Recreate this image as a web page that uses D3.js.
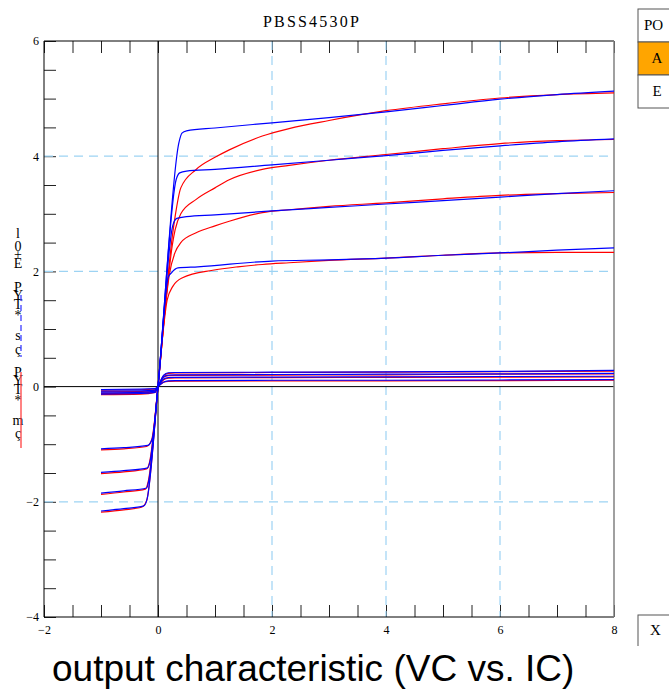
<!DOCTYPE html>
<html>
<head>
<meta charset="utf-8">
<script src="https://cdn.jsdelivr.net/npm/d3@7"></script>
<style>
  body { margin: 0; background: #fff; }
  svg { display: block; }
</style>
</head>
<body>
<div id="chart"></div>
<script>
// axis / grid values
const xTicks = [-2, 0, 2, 4, 6, 8];
const yTicks = [-4, -2, 0, 2, 4, 6];
const gridX = [2, 4, 6];
const gridY = [-2, 2, 4];
const legendItems = ["PO", "A", "E"];
const chartTitle = "PBSS4530P";
const caption = "output characteristic (VC vs. IC)";
const yLabelChars = ["l", "0", "+", "E", "P", "Y", "T", "*", "s", "ç", "P", "Y", "T", "*", "m", "ç"];

// measured curves (blue), [VCE, IC]
const measured1 = [[-1,-2.16],[-0.6,-2.12],[-0.25,-2.07],[-0.19,-1.95],[0,0],[0.37,4.25],[0.42,4.4],[0.5,4.44],[1,4.49],[2,4.58],[3,4.67],[4,4.77],[5,4.88],[6,4.99],[7,5.07],[8,5.13]];
const measured2 = [[-1,-1.85],[-0.6,-1.81],[-0.2,-1.76],[-0.16,-1.62],[0,0],[0.32,3.6],[0.38,3.71],[0.5,3.74],[1,3.77],[2,3.85],[3,3.93],[4,4.01],[5,4.1],[6,4.18],[7,4.25],[8,4.3]];
const measured3 = [[-1,-1.49],[-0.6,-1.46],[-0.18,-1.41],[-0.14,-1.3],[0,0],[0.26,2.8],[0.33,2.92],[0.5,2.95],[1,2.98],[2,3.05],[3,3.11],[4,3.17],[5,3.23],[6,3.29],[7,3.35],[8,3.4]];
const measured4 = [[-1,-1.08],[-0.6,-1.06],[-0.18,-1.02],[-0.1,-0.9],[0,0],[0.18,1.9],[0.24,1.98],[0.35,2.06],[0.7,2.08],[2,2.18],[3,2.2],[4,2.23],[5,2.28],[6,2.32],[7,2.37],[8,2.41]];
const measured5 = [[-1,-0.13],[-0.3,-0.12],[-0.05,-0.1],[0,0],[0.1,0.2],[0.18,0.24],[0.3,0.245],[2,0.25],[4,0.255],[6,0.265],[8,0.28]];
const measured6 = [[-1,-0.11],[-0.3,-0.1],[-0.05,-0.08],[0,0],[0.1,0.17],[0.18,0.2],[0.3,0.205],[2,0.21],[4,0.215],[6,0.22],[8,0.23]];
const measured7 = [[-1,-0.08],[-0.3,-0.075],[-0.05,-0.06],[0,0],[0.1,0.13],[0.18,0.155],[0.3,0.16],[2,0.165],[4,0.17],[6,0.175],[8,0.18]];
const measured8 = [[-1,-0.05],[-0.3,-0.045],[-0.05,-0.035],[0,0],[0.1,0.08],[0.18,0.1],[0.3,0.105],[2,0.11],[4,0.11],[6,0.115],[8,0.12]];

// simulated curves (red)
const simulated1 = [[-1,-2.18],[-0.6,-2.14],[-0.28,-2.09],[-0.2,-1.98],[0,0],[0.15,1.65],[0.25,2.6],[0.3,2.95],[0.4,3.45],[0.67,3.77],[1,3.98],[1.25,4.11],[1.83,4.35],[2.3,4.48],[3,4.62],[4,4.79],[5,4.91],[6,5.01],[7,5.07],[8,5.1]];
const simulated2 = [[-1,-1.87],[-0.6,-1.83],[-0.22,-1.78],[-0.17,-1.64],[0,0],[0.15,1.6],[0.25,2.45],[0.3,2.72],[0.4,3.0],[0.67,3.25],[1,3.45],[1.25,3.59],[1.83,3.77],[2.3,3.84],[3,3.93],[4,4.03],[5,4.13],[6,4.22],[7,4.27],[8,4.29]];
const simulated3 = [[-1,-1.51],[-0.6,-1.48],[-0.2,-1.43],[-0.15,-1.32],[0,0],[0.12,1.3],[0.2,1.95],[0.3,2.33],[0.4,2.5],[0.67,2.67],[1,2.79],[1.25,2.87],[1.83,3.02],[2.3,3.07],[3,3.13],[4,3.19],[5,3.26],[6,3.32],[7,3.35],[8,3.37]];
const simulated4 = [[-1,-1.1],[-0.6,-1.08],[-0.2,-1.04],[-0.11,-0.92],[0,0],[0.1,1.05],[0.16,1.5],[0.26,1.74],[0.43,1.89],[0.96,2.02],[1.4,2.08],[1.83,2.12],[2.3,2.15],[3,2.19],[4,2.23],[5,2.28],[6,2.32],[7,2.33],[8,2.33]];
const simulated5 = [[-1,-0.14],[-0.3,-0.13],[-0.05,-0.1],[0,0],[0.1,0.19],[0.18,0.23],[0.3,0.24],[2,0.245],[4,0.25],[6,0.26],[8,0.27]];
const simulated6 = [[-1,-0.12],[-0.3,-0.11],[-0.05,-0.085],[0,0],[0.1,0.16],[0.18,0.19],[0.3,0.195],[2,0.2],[4,0.205],[6,0.215],[8,0.22]];
const simulated7 = [[-1,-0.09],[-0.3,-0.085],[-0.05,-0.06],[0,0],[0.1,0.12],[0.18,0.145],[0.3,0.15],[2,0.155],[4,0.16],[6,0.165],[8,0.17]];
const simulated8 = [[-1,-0.06],[-0.3,-0.055],[-0.05,-0.04],[0,0],[0.1,0.075],[0.18,0.09],[0.3,0.095],[2,0.1],[4,0.1],[6,0.105],[8,0.11]];

const measured = [measured1, measured2, measured3, measured4, measured5, measured6, measured7, measured8];
const simulated = [simulated1, simulated2, simulated3, simulated4, simulated5, simulated6, simulated7, simulated8];

const width = 669, height = 690;
const plot = { left: 44, right: 614, top: 41, bottom: 617 };
const serif = "'Liberation Serif', 'DejaVu Serif', serif";

const svg = d3.select("#chart").append("svg")
  .attr("width", width)
  .attr("height", height);

const x = d3.scaleLinear().domain([-2, 8]).range([plot.left, plot.right]);
const y = d3.scaleLinear().domain([-4, 6]).range([plot.bottom, plot.top]);

// title
svg.append("text")
  .attr("x", 312).attr("y", 27)
  .attr("text-anchor", "middle")
  .attr("font-family", serif)
  .attr("font-size", 16)
  .attr("letter-spacing", 2.2)
  .text(chartTitle);

// minor ticks every 0.5 on top, bottom and left edges
const halfX = d3.range(-2, 8.001, 0.5);
const halfY = d3.range(-4, 6.001, 0.5);

const fmtX = d => xTicks.includes(d) ? d3.format("d")(d) : "";
const fmtY = d => yTicks.includes(d) ? d3.format("d")(d) : "";

const bottomAxis = svg.append("g")
  .attr("transform", `translate(0,${plot.bottom})`)
  .call(d3.axisBottom(x).tickValues(halfX).tickSizeInner(-12).tickSizeOuter(0).tickPadding(8).tickFormat(fmtX));

const topAxis = svg.append("g")
  .attr("transform", `translate(0,${plot.top})`)
  .call(d3.axisTop(x).tickValues(halfX).tickSizeInner(-12).tickSizeOuter(0).tickFormat(""));

const leftAxis = svg.append("g")
  .attr("transform", `translate(${plot.left},0)`)
  .call(d3.axisLeft(y).tickValues(halfY).tickSizeInner(-12).tickSizeOuter(0).tickPadding(5).tickFormat(fmtY));

[bottomAxis, topAxis, leftAxis].forEach(a => {
  a.select(".domain").remove();
  a.selectAll(".tick line").attr("stroke", "#222");
  a.selectAll("text").attr("font-family", serif).attr("font-size", 12).attr("fill", "#000");
});

// dashed grid
const gridColor = "#9dd3f3";
svg.append("g").selectAll("line")
  .data(gridX).join("line")
  .attr("x1", d => x(d)).attr("x2", d => x(d))
  .attr("y1", plot.top).attr("y2", plot.bottom)
  .attr("stroke", gridColor).attr("stroke-width", 1.2)
  .attr("stroke-dasharray", "9,6");

svg.append("g").selectAll("line")
  .data(gridY).join("line")
  .attr("x1", plot.left).attr("x2", plot.right)
  .attr("y1", d => y(d)).attr("y2", d => y(d))
  .attr("stroke", gridColor).attr("stroke-width", 1.2)
  .attr("stroke-dasharray", "9,6");

// zero lines
svg.append("line")
  .attr("x1", x(0)).attr("x2", x(0))
  .attr("y1", plot.top).attr("y2", plot.bottom)
  .attr("stroke", "#000");
svg.append("line")
  .attr("x1", plot.left).attr("x2", plot.right)
  .attr("y1", y(0)).attr("y2", y(0))
  .attr("stroke", "#000");

// frame
svg.append("line").attr("x1", plot.left).attr("x2", plot.right).attr("y1", plot.top).attr("y2", plot.top).attr("stroke", "#000");
svg.append("line").attr("x1", plot.left).attr("x2", plot.right).attr("y1", plot.bottom).attr("y2", plot.bottom).attr("stroke", "#000");
svg.append("line").attr("x1", plot.left).attr("x2", plot.left).attr("y1", plot.top).attr("y2", plot.bottom).attr("stroke", "#000");
svg.append("line").attr("x1", plot.right).attr("x2", plot.right).attr("y1", plot.top).attr("y2", plot.bottom).attr("stroke", "#808080").attr("stroke-width", 1.5);

// curves
svg.append("clipPath").attr("id", "plotClip")
  .append("rect")
  .attr("x", plot.left).attr("y", plot.top)
  .attr("width", plot.right - plot.left).attr("height", plot.bottom - plot.top);

const line = d3.line()
  .x(d => x(d[0]))
  .y(d => y(d[1]))
  .curve(d3.curveMonotoneX);

const curves = svg.append("g").attr("clip-path", "url(#plotClip)");

curves.selectAll(".simulated")
  .data(simulated).join("path")
  .attr("class", "simulated")
  .attr("d", line)
  .attr("fill", "none")
  .attr("stroke", "#ff0000")
  .attr("stroke-width", 1.2);

curves.selectAll(".measured")
  .data(measured).join("path")
  .attr("class", "measured")
  .attr("d", line)
  .attr("fill", "none")
  .attr("stroke", "#0000ff")
  .attr("stroke-width", 1.2);

// garbled vertical y label with line samples
const yLabel = svg.append("g");
const charY = [238, 251, 259, 268, 292, 300, 309, 320, 340, 354, 377, 385, 394, 405, 425, 438];
yLabel.selectAll("text")
  .data(yLabelChars).join("text")
  .attr("x", 18).attr("y", (d, i) => charY[i])
  .attr("text-anchor", "middle")
  .attr("font-family", serif)
  .attr("font-size", 14)
  .text(d => d);
yLabel.append("line")
  .attr("x1", 21).attr("x2", 21).attr("y1", 295).attr("y2", 357)
  .attr("stroke", "#3d3dff").attr("stroke-width", 1.3).attr("stroke-dasharray", "6,4");
yLabel.append("line")
  .attr("x1", 21).attr("x2", 21).attr("y1", 372).attr("y2", 448)
  .attr("stroke", "#ff4040").attr("stroke-width", 1.3);

// garbled x label, cut off under the caption
svg.append("clipPath").attr("id", "xLabelClip")
  .append("rect").attr("x", 0).attr("y", 600).attr("width", width).attr("height", 48);
svg.append("text")
  .attr("clip-path", "url(#xLabelClip)")
  .attr("x", 342).attr("y", 658)
  .attr("text-anchor", "middle")
  .attr("font-family", serif)
  .attr("font-size", 14)
  .attr("fill", "#444")
  .text("VTT-T_TE");

// legend boxes on the right
const legend = svg.append("g").attr("transform", "translate(638,9)");
const boxH = 33;
legend.selectAll("rect")
  .data(legendItems).join("rect")
  .attr("x", 0).attr("y", (d, i) => i * boxH)
  .attr("width", 40).attr("height", boxH)
  .attr("fill", d => d === "A" ? "#ffa500" : "#fff")
  .attr("stroke", "#555");
legend.selectAll("text")
  .data(legendItems).join("text")
  .attr("x", d => d === "PO" ? 6 : 19)
  .attr("y", (d, i) => i * boxH + 21)
  .attr("text-anchor", d => d === "PO" ? "start" : "middle")
  .attr("font-family", serif)
  .attr("font-size", 15)
  .text(d => d);

// box at bottom right
svg.append("rect")
  .attr("x", 638).attr("y", 615).attr("width", 40).attr("height", 40)
  .attr("fill", "#fff").attr("stroke", "#555");
svg.append("rect").attr("x", 0).attr("y", 646).attr("width", width).attr("height", 44).attr("fill", "#fff");
svg.append("text")
  .attr("x", 650).attr("y", 635)
  .attr("font-family", serif)
  .attr("font-size", 15)
  .text("X");

// caption
svg.append("text")
  .attr("x", 52).attr("y", 681)
  .attr("font-family", "'Liberation Sans', Arial, sans-serif")
  .attr("font-size", 37)
  .text(caption);
</script>
</body>
</html>
